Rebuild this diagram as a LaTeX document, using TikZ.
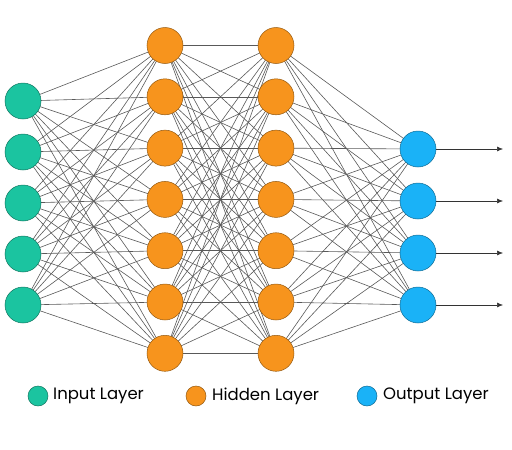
\documentclass[tikz,border=0pt]{standalone}
\usepackage{fontspec}
\setmainfont{Poppins}
\usetikzlibrary{backgrounds,arrows.meta}
\definecolor{inpc}{HTML}{1BC4A0}
\definecolor{hidc}{HTML}{F7941D}
\definecolor{outc}{HTML}{1AB2F7}
\tikzset{
  neuron/.style={circle, minimum size=36pt, inner sep=0pt, draw=#1!60!black, line width=0.5pt, fill=#1},
  lgd/.style={circle, minimum size=20pt, inner sep=0pt, draw=#1!60!black, line width=0.5pt, fill=#1},
  wire/.style={draw=black!65, line width=0.6pt},
  outarrow/.style={draw=black!80, line width=0.6pt, -{Latex[length=6pt,width=5pt]}},
  lbl/.style={anchor=west, inner sep=0pt, font=\fontsize{16.5pt}{18pt}\selectfont}
}
\begin{document}
\begin{tikzpicture}[x=1pt,y=-1pt]
\useasboundingbox (0,0) rectangle (512,450);
\foreach \k in {1,...,5} \node[neuron=inpc] (i\k) at (23,{101+51*(\k-1)}) {};
\foreach \k in {1,...,7} \node[neuron=hidc] (h\k) at (165,{45.5+51.3*(\k-1)}) {};
\foreach \k in {1,...,7} \node[neuron=hidc] (g\k) at (276,{45.5+51.3*(\k-1)}) {};
\foreach \k in {1,...,4} \node[neuron=outc] (o\k) at (418,{149+52*(\k-1)}) {};
\foreach \k in {1,...,4} \coordinate (e\k) at (503,{149+52*(\k-1)});
\begin{scope}[on background layer]
\foreach \a in {1,...,5} \foreach \b in {1,...,7} \draw[wire] (i\a.center) -- (h\b.center);
\foreach \a in {1,...,7} \foreach \b in {1,...,7} \draw[wire] (h\a.center) -- (g\b.center);
\foreach \a in {1,...,7} \foreach \b in {1,...,4} \draw[wire] (g\a.center) -- (o\b.center);
\end{scope}
\foreach \k in {1,...,4} \draw[outarrow] (o\k) -- (e\k);
\node[lgd=inpc] (li) at (38,396) {};
\node[lbl] (ti) at (53,396) {Input Layer};
\node[lgd=hidc] (lh) at (196,396) {};
\node[lbl] (th) at (212,396) {Hidden Layer};
\node[lgd=outc] (lo) at (367,396) {};
\node[lbl] (to) at (383,396) {Output Layer};
\end{tikzpicture}
\end{document}
